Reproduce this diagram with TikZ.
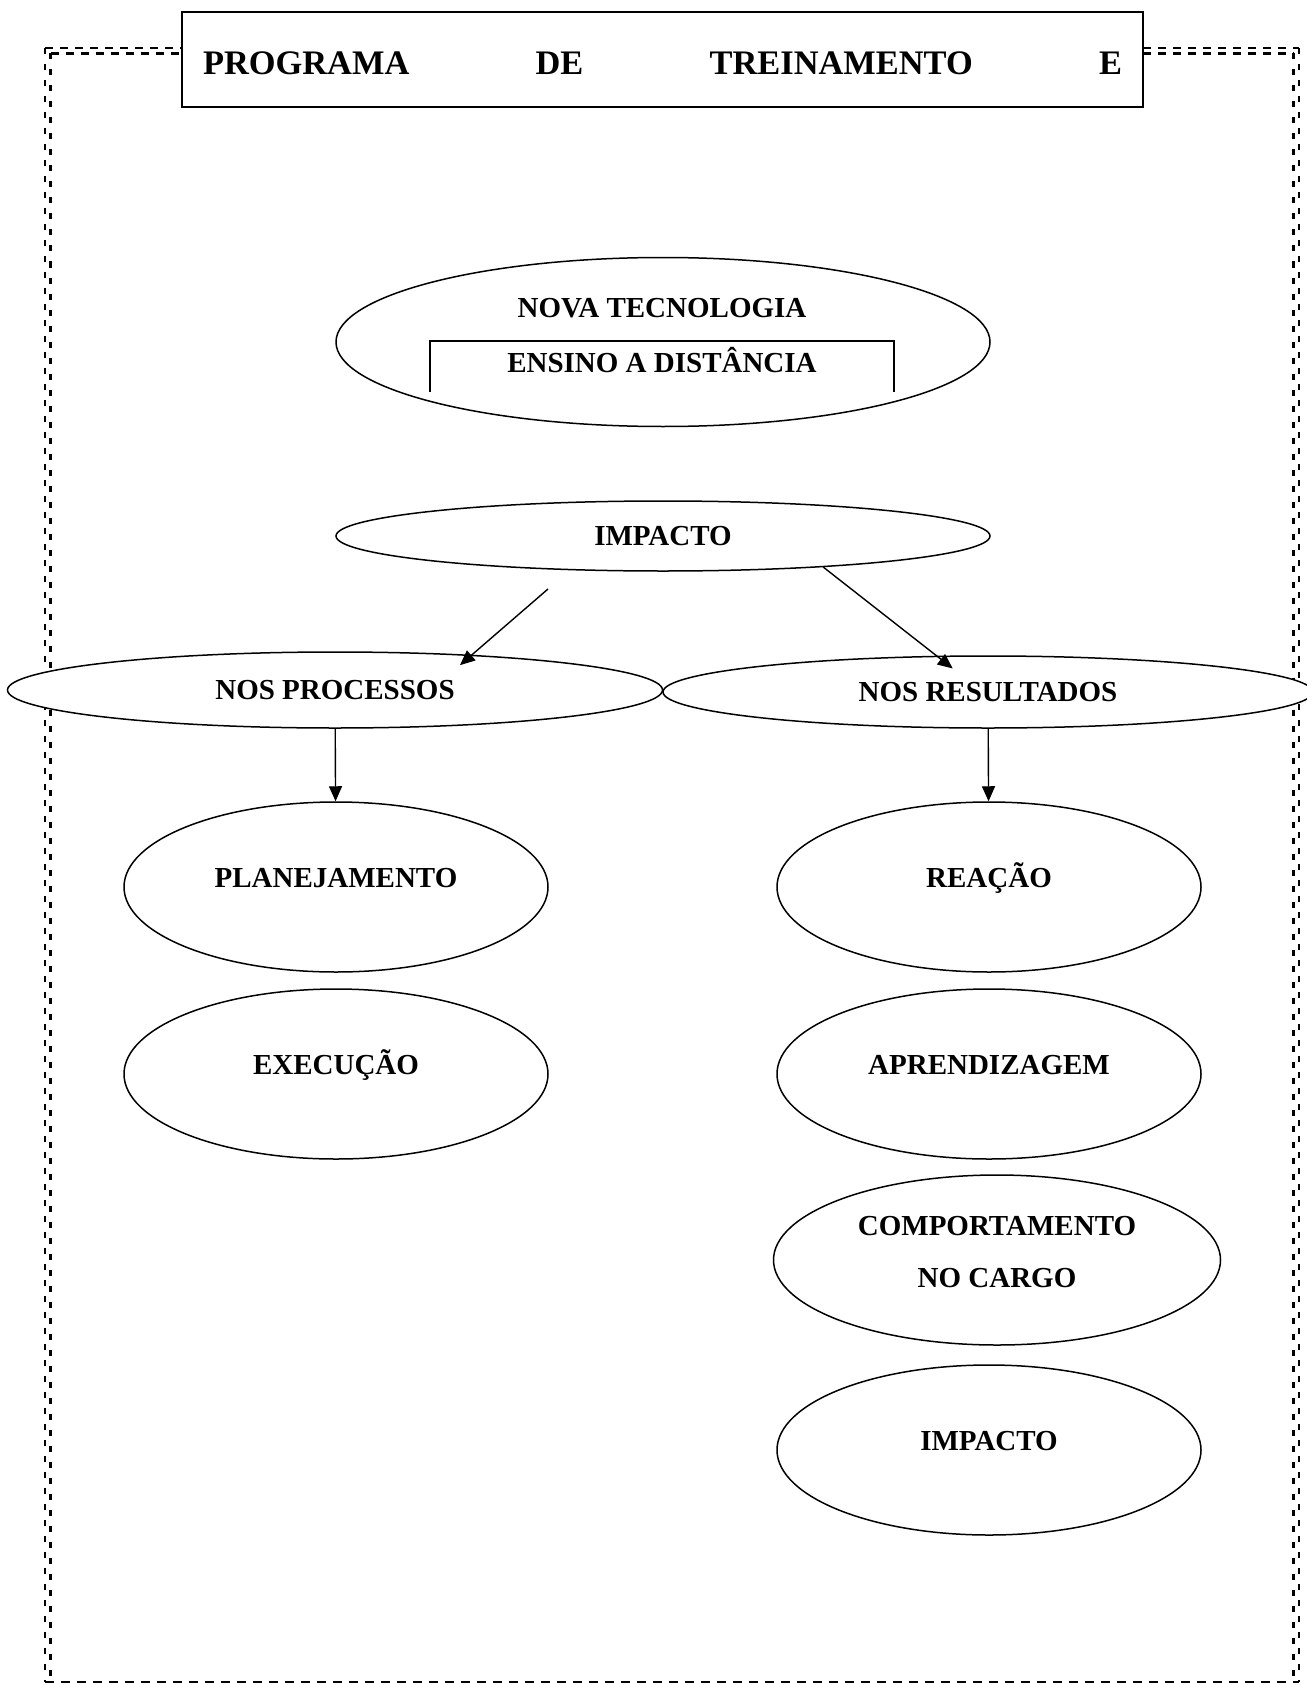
\documentclass[tikz,border=0pt]{standalone}
\usepackage{fontspec}
\setmainfont{Liberation Serif}
\usetikzlibrary{shapes.geometric, arrows.meta}
\tikzstyle{oval} = [ellipse, draw=black, fill=white, line width=0.75pt, minimum width=212pt, minimum height=85pt, inner sep=0pt, text height=0pt, text depth=0pt, font=\bfseries\fontsize{14.5}{17}\selectfont]
\tikzstyle{flatoval} = [oval, minimum width=327pt, minimum height=36pt, text height=, text depth=]
\tikzstyle{txt} = [anchor=base, inner sep=0pt, font=\bfseries\fontsize{14.5}{17}\selectfont]
\tikzstyle{titlebox} = [rectangle, draw=black, fill=white, line width=0.8pt, minimum width=480.5pt, minimum height=47.5pt, inner sep=0pt, text height=15pt, font=\bfseries\fontsize{17.2}{20}\selectfont]
\tikzstyle{frameh} = [line width=1.3pt, dash pattern=on 4pt off 3.5pt]
\tikzstyle{framev} = [line width=1.3pt, dash pattern=on 3pt off 5pt]
\tikzstyle{frameb} = [line width=1.2pt, dash pattern=on 4.5pt off 3.5pt]
\tikzstyle{arrow} = [line width=0.7pt, -{Triangle[length=7.5pt,width=6.5pt]}]

\begin{document}
\begin{tikzpicture}[x=0.5pt, y=-0.5pt]
\useasboundingbox (0,0) rectangle (1306,1685);

% Moldura tracejada dupla
\foreach \d in {0,5.5} {
  \draw [framev] (45+\d,48+\d) -- (45+\d,1682);
  \draw [framev] (1299-\d,48+\d) -- (1299-\d,1682);
  \draw [frameh] (45+\d,48+\d) -- (182,48+\d);
  \draw [frameh] (1143,48+\d) -- (1299-\d,48+\d);
}
\draw [frameb] (45,1682) -- (1299,1682);

% Nodos
\node (title) [titlebox] at (662.5,59.5) {\makebox[459.5pt][s]{PROGRAMA DE TREINAMENTO E}};
\node (nova) [oval, minimum width=327pt, minimum height=84.5pt] at (663,342) {};
\node (novatxt) [txt] at (662,317) {NOVA TECNOLOGIA};
\node (ensino) [txt] at (662,372) {ENSINO A DISTÂNCIA};
\draw [line width=0.75pt] (430,392) |- (894,341) -- (894,392); % caixa aberta
\node (impacto) [flatoval, minimum height=35pt] at (663,536) {IMPACTO};
\node (procs) [flatoval, minimum width=327.5pt, minimum height=38pt] at (335,690) {NOS PROCESSOS};
\node (ress) [flatoval, minimum width=325pt] at (988,692) {NOS RESULTADOS};
\node (planej) [oval] at (336,887) {PLANEJAMENTO};
\node (exec) [oval] at (336,1074) {EXECUÇÃO};
\node (reacao) [oval] at (989,887) {REAÇÃO};
\node (aprend) [oval] at (989,1074) {APRENDIZAGEM};
\node (comport) [oval, minimum width=223.5pt, align=center, text height=, text depth=8pt] at (997,1260) {COMPORTAMENTO\\[9pt]NO CARGO};
\node (impfinal) [oval] at (989,1450) {IMPACTO};

% Flechas
\coordinate (impl) at (548,589);
\draw [arrow] (impl) -- ([yshift=-5.5pt]procs.16);
\draw [arrow] (impacto.-11) -- ([yshift=-6.5pt]ress.134);
\draw [arrow] (procs) -- (planej);
\draw [arrow] (ress) -- (reacao);

\end{tikzpicture}
\end{document}
